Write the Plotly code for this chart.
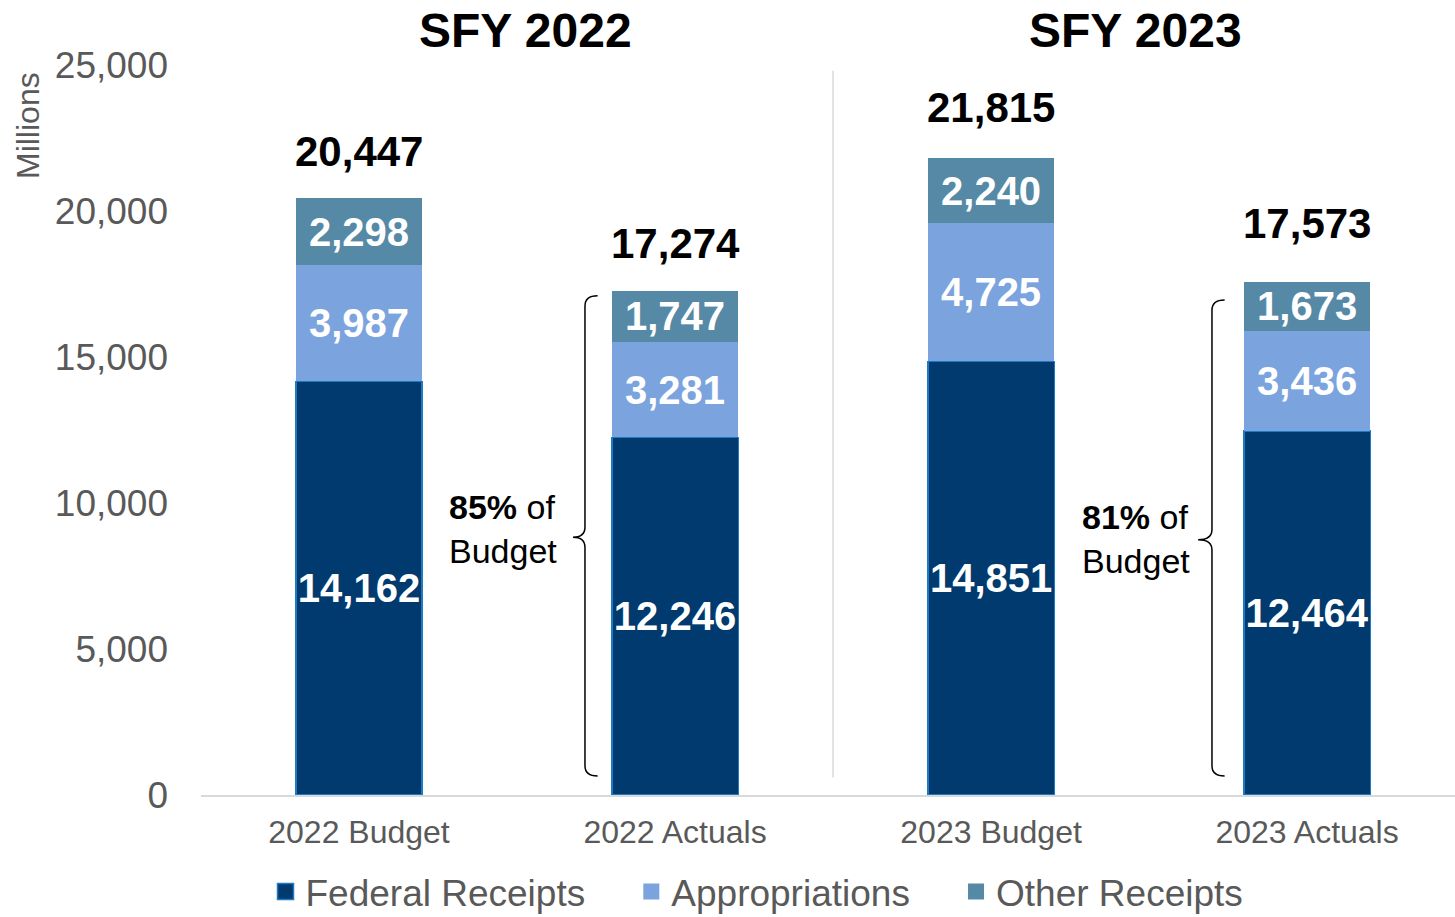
import plotly.graph_objects as go

categories = ["2022 Budget", "2022 Actuals", "2023 Budget", "2023 Actuals"]
federal = [14162, 12246, 14851, 12464]
appropriations = [3987, 3281, 4725, 3436]
other = [2298, 1747, 2240, 1673]
totals = [20447, 17274, 21815, 17573]
pct_of_budget = ["85%", "81%"]
years = ["SFY 2022", "SFY 2023"]

xs = list(range(len(categories)))
FONT = "Liberation Sans, Arial, sans-serif"
GREY = "#595959"

W, H = 1455, 917
L, R, T, B = 201, 0, 65, 122


def px_to_paper(px, py):
    return (px - L) / (W - L - R), (H - B - py) / (H - T - B)


fig = go.Figure()
series = [
    ("Federal Receipts", federal, "#003A6E", "#1F7AC4", 1.5),
    ("Appropriations", appropriations, "#7BA3DD", "#7BA3DD", 0),
    ("Other Receipts", other, "#5589A6", "#5589A6", 0),
]
for name, vals, color, edge, lw in series:
    fig.add_trace(go.Bar(
        x=xs, y=vals, name=name, width=0.4, showlegend=False,
        marker=dict(color=color, line=dict(color=edge, width=lw)),
        text=[f"{v:,}" for v in vals], texttemplate="%{text}",
        textposition="inside", insidetextanchor="middle",
        constraintext="none", textangle=0,
        textfont=dict(family=FONT, size=40, color="white", weight="bold"),
        hoverinfo="skip",
    ))
# legend entries with larger square swatches
pad = "\u00a0" * 4
for i, (name, vals, color, edge, lw) in enumerate(series):
    fig.add_trace(go.Scatter(
        x=[None], y=[None], mode="markers",
        name=name + (pad if i < len(series) - 1 else ""),
        marker=dict(symbol="square", size=16, color=color,
                    line=dict(color=edge, width=lw)),
    ))

annotations = []
total_shift = [46, 47, 51, 58]
for x, t, s in zip(xs, totals, total_shift):
    annotations.append(dict(
        x=x, y=t, xref="x", yref="y", text=f"<b>{t:,}</b>", showarrow=False,
        yanchor="middle", yshift=s, font=dict(family=FONT, size=42, color="black"),
    ))

# year titles
for pxx, label in zip([525, 1135], years):
    ax, ay = px_to_paper(pxx, 30)
    annotations.append(dict(
        x=ax, y=ay, xref="paper", yref="paper", text=f"<b>{label}</b>",
        showarrow=False, xanchor="center", yanchor="middle",
        font=dict(family=FONT, size=48, color="black"),
    ))

# percent of budget notes
for xpos, ypos, p in zip([0.278, 2.282], [9110, 8770], pct_of_budget):
    annotations.append(dict(
        x=xpos, y=ypos, xref="x", yref="y", text=f"<b>{p}</b> of<br>Budget",
        showarrow=False, xanchor="left", align="left",
        font=dict(family=FONT, size=34, color="black"),
    ))

mx, my = px_to_paper(28, 126)
annotations.append(dict(
    x=mx, y=my, xref="paper", yref="paper", text="Millions", textangle=-90,
    showarrow=False, xanchor="center", yanchor="middle",
    font=dict(family=FONT, size=32, color=GREY),
))


def brace(x, xtip, ytop, ybot, ymid, dx=0.04, r=350):
    return (f"M {x + dx},{ytop} Q {x},{ytop} {x},{ytop - r} "
            f"L {x},{ymid + r} Q {x},{ymid} {xtip},{ymid} "
            f"Q {x},{ymid} {x},{ymid - r} L {x},{ybot + r} "
            f"Q {x},{ybot} {x + dx},{ybot}")


shapes = [
    dict(type="line", xref="x", yref="y", x0=1.5, x1=1.5, y0=600, y1=24800,
         line=dict(color="#D9D9D9", width=1.5)),
    dict(type="path", xref="x", yref="y",
         path=brace(0.715, 0.677, 17100, 650, 8830),
         line=dict(color="black", width=1.5)),
    dict(type="path", xref="x", yref="y",
         path=brace(2.699, 2.655, 16950, 650, 8740),
         line=dict(color="black", width=1.5)),
]

lx, ly = px_to_paper(757, 892)
fig.update_layout(
    width=W, height=H, barmode="stack",
    margin=dict(l=L, r=R, t=T, b=B, autoexpand=False),
    plot_bgcolor="white", paper_bgcolor="white",
    font=dict(family=FONT, color=GREY),
    xaxis=dict(range=[-0.5, 3.468], tickvals=xs, ticktext=categories,
               tickfont=dict(size=32, color=GREY), showgrid=False,
               showline=True, linecolor="#D9D9D9", linewidth=1.5,
               zeroline=False, ticks="", ticklabelstandoff=8),
    yaxis=dict(range=[0, 25000], tickvals=[0, 5000, 10000, 15000, 20000, 25000],
               tickformat=",", tickfont=dict(size=37, color=GREY),
               showgrid=False, zeroline=False, showline=False, ticks="",
               ticklabelstandoff=32),
    legend=dict(orientation="h", x=lx, xanchor="center", y=ly, yanchor="middle",
                font=dict(size=37, color=GREY), itemwidth=30, traceorder="normal",
                bgcolor="rgba(0,0,0,0)"),
    annotations=annotations, shapes=shapes, showlegend=True,
)

fig.write_html("out.html", config={"displayModeBar": False},
               post_script="document.body.style.margin='0';")
